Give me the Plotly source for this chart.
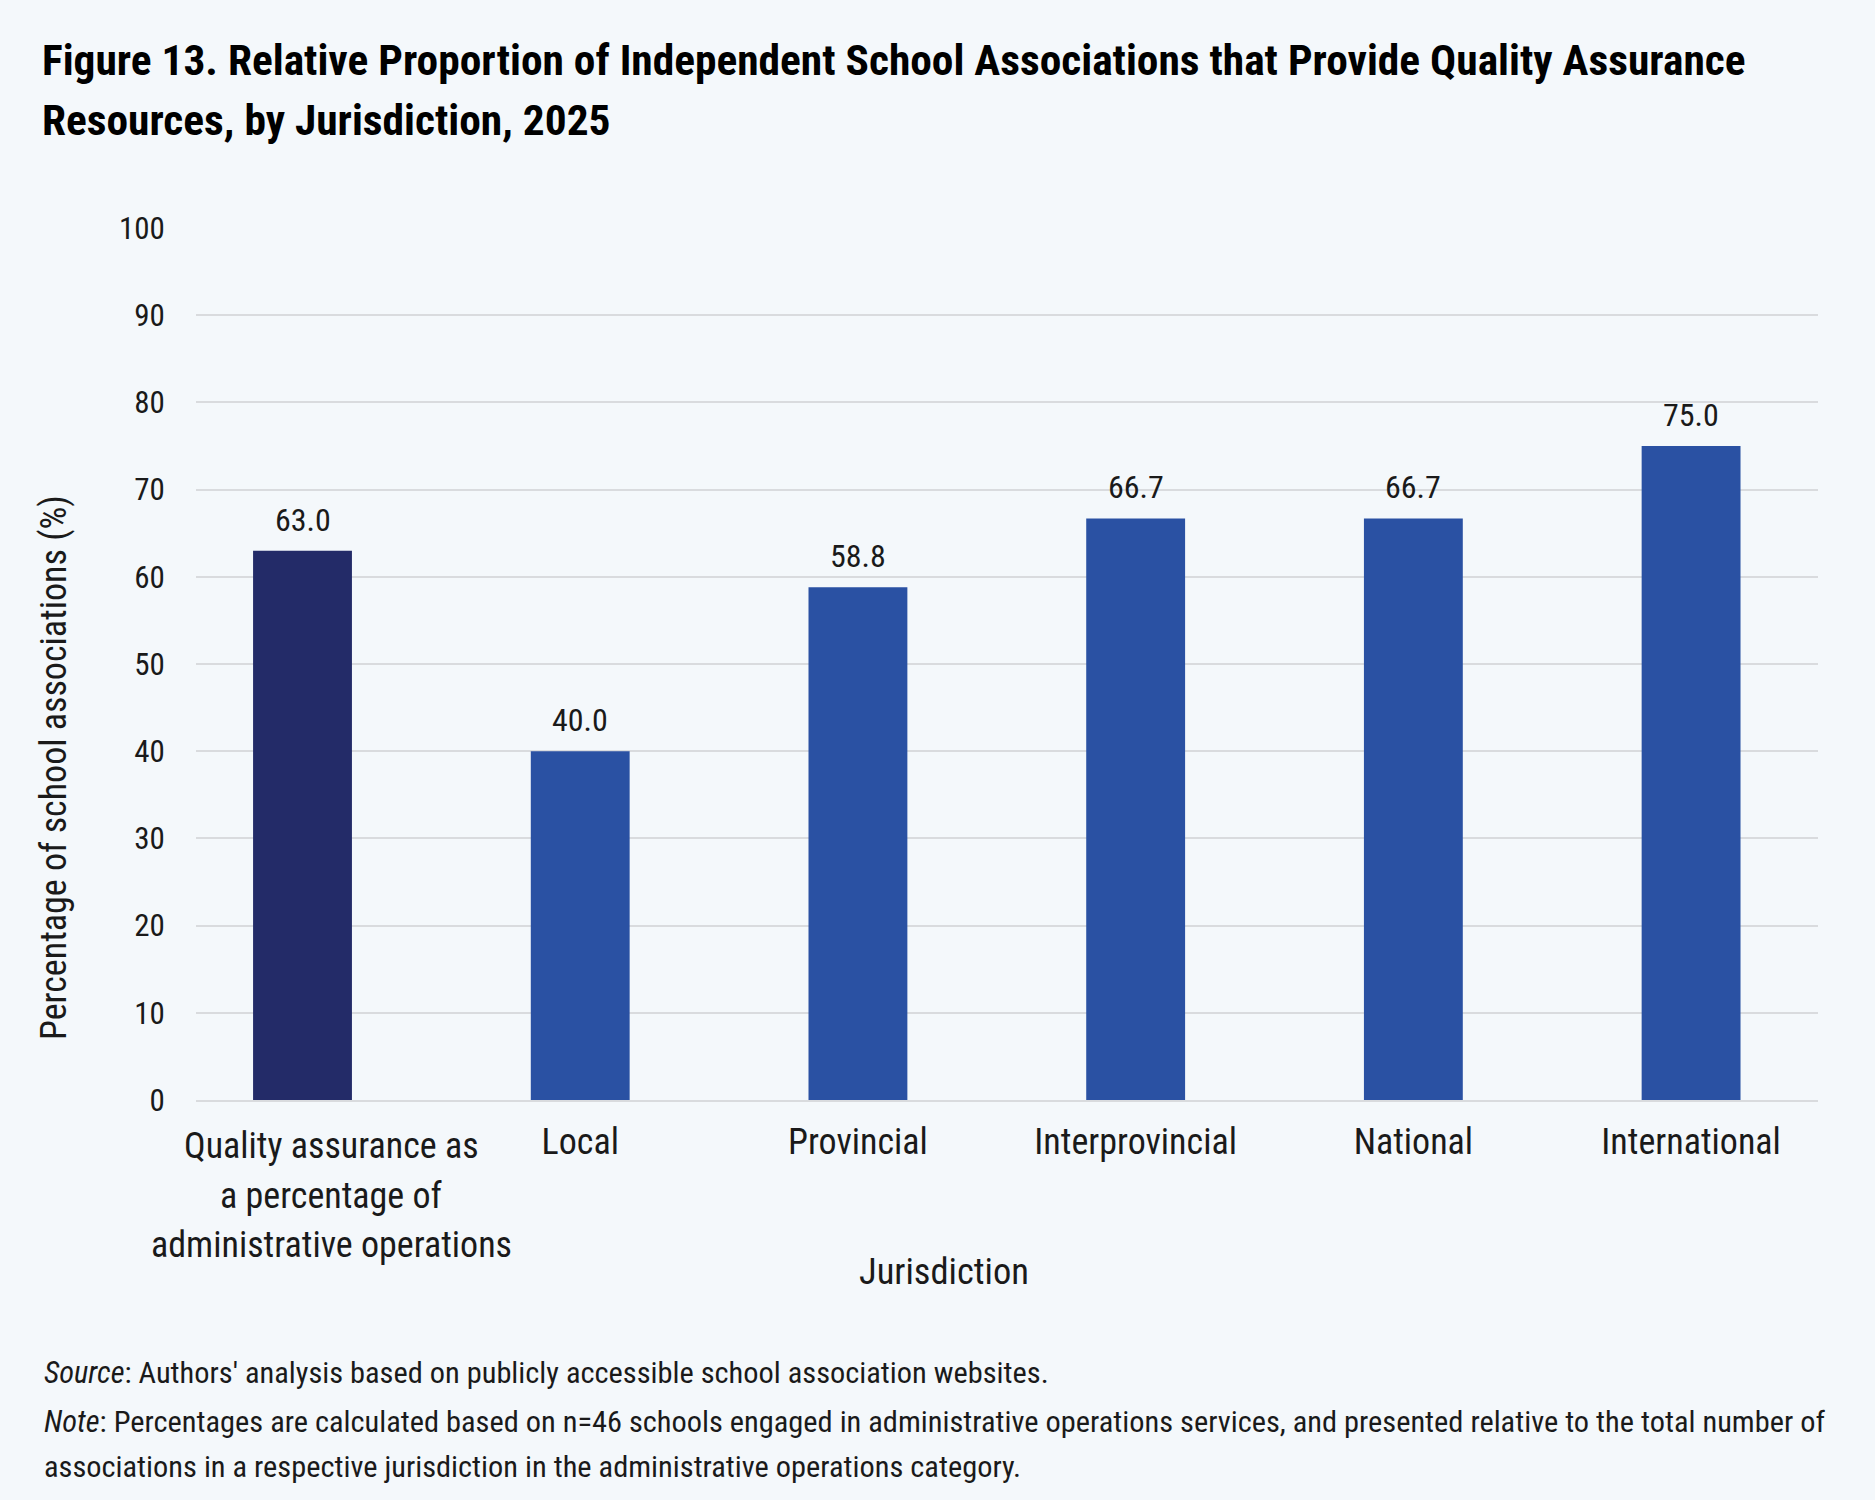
import plotly.graph_objects as go

# ---- data ----
categories = [
    "Quality assurance as a percentage of administrative operations",
    "Local",
    "Provincial",
    "Interprovincial",
    "National",
    "International",
]
first_label_lines = ["Quality assurance as", "a percentage of", "administrative operations"]
values = [63.0, 40.0, 58.8, 66.7, 66.7, 75.0]
value_labels = ["63.0", "40.0", "58.8", "66.7", "66.7", "75.0"]
y_ticks = [0, 10, 20, 30, 40, 50, 60, 70, 80, 90, 100]

title_lines = [
    "Figure 13. Relative Proportion of Independent School Associations that Provide Quality Assurance",
    "Resources, by Jurisdiction, 2025",
]
y_title = "Percentage of school associations (%)"
x_title = "Jurisdiction"
foot_lines = [
    "<i>Source</i>: Authors' analysis based on publicly accessible school association websites.",
    "<i>Note</i>: Percentages are calculated based on n=46 schools engaged in administrative operations services, and presented relative to the total number of",
    "associations in a respective jurisdiction in the administrative operations category.",
]

# ---- style ----
FONT = "Liberation Sans Narrow, Arial Narrow, Roboto Condensed, Liberation Sans, sans-serif"
BG = "#F4F8FB"
DARK = "#232B68"
BLUE = "#2A51A3"
TXT = "#1A1A1A"
GRID = "#D9DBDE"
bar_colors = [DARK] + [BLUE] * (len(values) - 1)

W, H = 1875, 1500
L, R, T, B = 196, 57, 228, 400
PW, PH = W - L - R, H - T - B


def px_x(px):
    return (px - L) / PW


def px_y(py):
    return (H - B - py) / PH


fig = go.Figure()
fig.add_trace(go.Bar(
    x=categories,
    y=values,
    width=0.356,
    marker=dict(color=bar_colors, line=dict(width=0)),
    cliponaxis=False,
    hoverinfo="skip",
))

tick_text = [""] + categories[1:]

fig.update_layout(
    width=W, height=H,
    margin=dict(l=L, r=R, t=T, b=B),
    paper_bgcolor=BG, plot_bgcolor=BG,
    showlegend=False,
    font=dict(family=FONT, color=TXT),
    xaxis=dict(
        type="category",
        range=[-0.3835, 5.457],
        tickvals=categories, ticktext=tick_text,
        showgrid=False,
        showline=True, linecolor=GRID, linewidth=2,
        ticks="outside", ticklen=9, tickcolor="rgba(0,0,0,0)",
        tickfont=dict(family=FONT, size=36, color=TXT),
        zeroline=False,
    ),
    yaxis=dict(
        range=[0, 100],
        tickvals=y_ticks,
        showgrid=True, gridcolor=GRID, gridwidth=2,
        zeroline=False,
        showline=False,
        ticks="outside", ticklen=24, tickcolor="rgba(0,0,0,0)",
        tickfont=dict(family=FONT, size=31, color=TXT),
    ),
)

annotations = [
    dict(text=y_title, x=px_x(54), y=px_y(768), xref="paper", yref="paper",
         xanchor="center", yanchor="middle", textangle=-90, showarrow=False,
         font=dict(family=FONT, size=36, color=TXT)),
    dict(text=x_title, x=px_x(944), y=px_y(1271), xref="paper", yref="paper",
         xanchor="center", yanchor="middle", showarrow=False,
         font=dict(family=FONT, size=36.5, color=TXT)),
]
for yy, line in zip([60, 121], title_lines):
    annotations.append(dict(text="<b>" + line + "</b>", x=px_x(40), y=px_y(yy), xref="paper", yref="paper",
                            xanchor="left", yanchor="middle", align="left", showarrow=False,
                            font=dict(family=FONT, size=43.4, color="#000000")))
for yy, line in zip([1146, 1196, 1245], first_label_lines):
    annotations.append(dict(text=line, x=px_x(331), y=px_y(yy), xref="paper", yref="paper",
                            xanchor="center", yanchor="middle", showarrow=False,
                            font=dict(family=FONT, size=36, color=TXT)))
for cat, val, lab in zip(categories, values, value_labels):
    annotations.append(dict(text=lab, x=cat, y=val, xref="x", yref="y",
                            xanchor="center", yanchor="bottom", yshift=10, showarrow=False,
                            font=dict(family=FONT, size=32, color=TXT)))
for yy, line in zip([1372, 1421, 1466], foot_lines):
    annotations.append(dict(text=line, x=px_x(42), y=px_y(yy), xref="paper", yref="paper",
                            xanchor="left", yanchor="middle", align="left", showarrow=False,
                            font=dict(family=FONT, size=30.4, color=TXT)))
fig.update_layout(annotations=annotations)

fig.write_html("out.html")
